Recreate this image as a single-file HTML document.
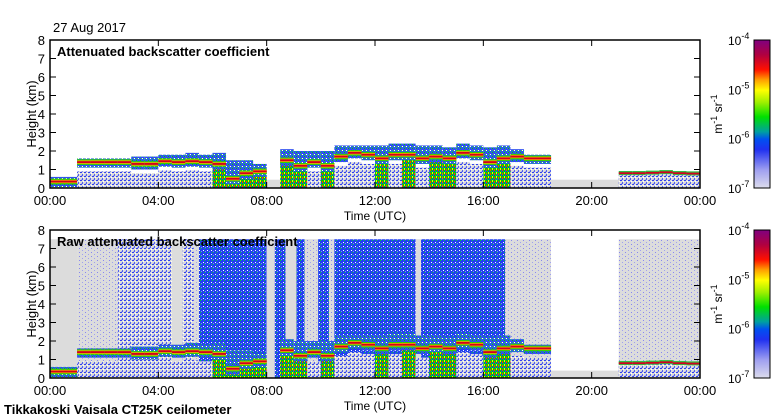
<!DOCTYPE html>
<html><head><meta charset="utf-8">
<style>
body{margin:0;background:#fff;}
svg{display:block;font-family:"Liberation Sans",sans-serif;}
</style></head>
<body>
<svg id="chart" width="780" height="420" viewBox="0 0 780 420" xmlns="http://www.w3.org/2000/svg">
<defs>
<linearGradient id="cbar" x1="0" y1="1" x2="0" y2="0">
<stop offset="0" stop-color="#dcdcec"/>
<stop offset="0.12" stop-color="#a0a0f0"/>
<stop offset="0.26" stop-color="#2030f0"/>
<stop offset="0.33" stop-color="#0050f0"/>
<stop offset="0.38" stop-color="#00a0a0"/>
<stop offset="0.48" stop-color="#00e000"/>
<stop offset="0.58" stop-color="#a0f000"/>
<stop offset="0.66" stop-color="#ffff00"/>
<stop offset="0.73" stop-color="#ffa000"/>
<stop offset="0.8" stop-color="#ff1000"/>
<stop offset="0.9" stop-color="#b00040"/>
<stop offset="1" stop-color="#800080"/>
</linearGradient>
<pattern id="pLight" width="6" height="4" patternUnits="userSpaceOnUse"><rect width="6" height="4" fill="#dcdcdc"/><rect x="1" y="0" width="1" height="1" fill="#8888f0"/><rect x="4" y="2" width="1" height="1" fill="#a0a0f0"/></pattern>
<pattern id="pMed" width="4" height="4" patternUnits="userSpaceOnUse"><rect width="4" height="4" fill="#dcdcdc"/><rect x="0" y="0" width="2" height="1" fill="#3040f0"/><rect x="2" y="2" width="1" height="2" fill="#5060f0"/><rect x="3" y="1" width="1" height="1" fill="#ffffff"/><rect x="1" y="3" width="1" height="1" fill="#a0a0f0"/></pattern>
<pattern id="pDense" width="4" height="4" patternUnits="userSpaceOnUse"><rect width="4" height="4" fill="#2040f0"/><rect x="0" y="0" width="1" height="1" fill="#00d040"/><rect x="3" y="2" width="1" height="1" fill="#ffffff"/><rect x="1" y="3" width="1" height="1" fill="#8090f0"/></pattern>
<pattern id="pHalo" width="4" height="4" patternUnits="userSpaceOnUse"><rect width="4" height="4" fill="#3050f0"/><rect x="0" y="0" width="1" height="1" fill="#00d000"/><rect x="2" y="2" width="1" height="1" fill="#ffffff"/><rect x="3" y="3" width="1" height="1" fill="#00c080"/><rect x="1" y="2" width="1" height="1" fill="#30e030"/></pattern>
<pattern id="pConv" width="4" height="4" patternUnits="userSpaceOnUse"><rect width="4" height="4" fill="#00d000"/><rect x="0" y="0" width="1" height="2" fill="#ffe000"/><rect x="2" y="1" width="1" height="2" fill="#ff3000"/><rect x="3" y="3" width="1" height="1" fill="#2040f0"/><rect x="1" y="2" width="1" height="2" fill="#2040f0"/></pattern>
</defs>
</svg>
<script>
// ---- data (half-hour bins, 48 values) ----
const binHours = Array.from({length:48},(_,i)=>i*0.5);
// cloud base height (km), 0 = no cloud
const cloudBase = [0.35,0.35,1.4,1.4,1.4,1.4,1.3,1.3,1.45,1.4,1.45,1.4,1.3,0.5,0.8,0.9,0,1.5,1.2,1.4,1.2,1.7,1.9,1.8,1.6,1.8,1.8,1.6,1.7,1.6,1.9,1.8,1.4,1.6,1.7,1.6,1.6,0,0,0,0,0,0,0,0,0,0,0];
const cloudTop  = [0.6,0.6,1.6,1.6,1.6,1.6,1.7,1.7,1.8,1.8,1.9,1.8,1.9,1.5,1.5,1.3,0,2.1,2.0,2.0,2.0,2.3,2.3,2.3,2.3,2.4,2.4,2.3,2.3,2.2,2.4,2.3,2.2,2.3,2.1,1.8,1.8,0,0,0,0,0,0,0,0,0,0,0];
// below-cloud fill: 0 none,1 light,2 blue,3 convective
const belowFill = [1,1,2,2,2,2,2,2,2,2,2,2,3,3,3,3,0,3,3,2,3,2,2,2,3,2,3,2,3,3,2,2,3,3,2,2,2,0,0,0,0,0,0,0,0,0,0,0];
// late-day low layer (21-24h)
const lateHours = [21,21.5,22,22.5,23,23.5];
const lateBase = [0.8,0.8,0.82,0.85,0.8,0.78];
// raw panel noise segments (hours) and level 0 gray,1 sparse,2 blue,3 dense,-1 empty
const segStart = [0,1,2.5,4.5,4.9,5.3,5.5,8.0,8.3,8.7,9.1,9.4,9.9,10.3,10.5,13.5,13.7,16.8,18.5,21];
const segEnd   = [1,2.5,4.5,4.9,5.3,5.5,8.0,8.3,8.7,9.1,9.4,9.9,10.3,10.5,13.5,13.7,16.8,18.5,21,24];
const segLevel = [0,1,2,0,2,1,3,0,3,0,3,1,3,1,3,0,3,1,-1,1];
const xTicks = ["00:00","04:00","08:00","12:00","16:00","20:00","00:00"];
const yTicks = [0,1,2,3,4,5,6,7,8];
const cbTicks = ["-7","-6","-5","-4"];

const svg = document.getElementById('chart');
const NS = "http://www.w3.org/2000/svg";
const X0=50, X1=700;
const xs = h => X0 + h*(X1-X0)/24;
function mk(tag, attrs, parent){const e=document.createElementNS(NS,tag);for(const k in attrs)e.setAttribute(k,attrs[k]);(parent||svg).appendChild(e);return e;}

const panels = [{top:40,bot:188,raw:false,title:"Attenuated backscatter coefficient",name:"attenuated-panel"},
                {top:230,bot:378,raw:true,title:"Raw attenuated backscatter coefficient",name:"raw-panel"}];

panels.forEach(p=>{
  const ys = km => p.bot - km*(p.bot-p.top)/8;
  const g = mk('g',{});
  
  
  const bw = (X1-X0)/48;
  if(p.raw){
    for(let i=0;i<segStart.length;i++){
      const lv=segLevel[i];
      const fill = lv<0?'#ffffff':lv===0?'#dcdcdc':lv===1?'url(#pLight)':lv===2?'url(#pMed)':'url(#pDense)';
      const r=mk('rect',{x:xs(segStart[i]),y:ys(7.5),width:xs(segEnd[i])-xs(segStart[i]),height:ys(0)-ys(7.5),fill:fill},g);
      
      
    }
    mk('rect',{x:xs(18.5),y:ys(0.4),width:xs(21)-xs(18.5),height:ys(0)-ys(0.4),fill:'#dcdcdc'},g);
  } else {
    const gr=mk('rect',{x:xs(0),y:ys(0.45),width:xs(24)-xs(0),height:ys(0)-ys(0.45),fill:'#dcdcdc'},g);
    
    
  }
  // clouds
  for(let i=0;i<48;i++){
    const b=cloudBase[i]; if(!b) continue;
    const x=xs(binHours[i]);
    const f=belowFill[i];
    if(f>0){
      const lowTop = f===3? b : b-0.5;
      const fill = f===1?'url(#pLight)':f===2?'url(#pMed)':'url(#pConv)';
      mk('rect',{x:x,y:ys(Math.max(lowTop,0.05)),width:bw,height:ys(0)-ys(Math.max(lowTop,0.05)),fill:fill},g);
    }
    const halo=mk('rect',{x:x,y:ys(cloudTop[i]),width:bw,height:ys(b-0.3)-ys(cloudTop[i]),fill:'url(#pHalo)'},g);
    
    
    mk('rect',{x:x,y:ys(b+0.15),width:bw,height:ys(b-0.15)-ys(b+0.15),fill:'#30d000'},g);
    mk('rect',{x:x,y:ys(b+0.09),width:bw,height:ys(b-0.09)-ys(b+0.09),fill:'#ffb000'},g);
    const c=mk('rect',{x:x,y:ys(b+0.05),width:bw,height:ys(b-0.05)-ys(b+0.05),fill:'#d00020'},g);
    
    
  }
  for(let i=0;i<lateHours.length;i++){
    const x=xs(lateHours[i]); const b=lateBase[i]; const w=xs(0.5)-xs(0);
    mk('rect',{x:x,y:ys(b-0.1),width:w,height:ys(0)-ys(b-0.1),fill:'url(#pMed)'},g);
    mk('rect',{x:x,y:ys(b+0.12),width:w,height:ys(b-0.1)-ys(b+0.12),fill:'#30c040'},g);
    const c=mk('rect',{x:x,y:ys(b+0.05),width:w,height:ys(b-0.05)-ys(b+0.05),fill:'#d00020'},g);
    
    
  }
  // frame
  const fr=mk('rect',{x:X0,y:p.top,width:X1-X0,height:p.bot-p.top,fill:'none',stroke:'#000','stroke-width':1.5});
  
  
  yTicks.forEach(v=>{
    const y=ys(v);
    mk('line',{x1:X1,y1:y,x2:X1-6,y2:y,stroke:'#000'});
    mk('line',{x1:X0,y1:y,x2:X0+6,y2:y,stroke:'#000'});
    const t=mk('text',{x:X0-5,y:y+5,'text-anchor':'end','font-size':13});
    t.textContent=v;
    
    
  });
  xTicks.forEach((lab,i)=>{
    const x=xs(i*4);
    mk('line',{x1:x,y1:p.top,x2:x,y2:p.top+6,stroke:'#000'});
    mk('line',{x1:x,y1:p.bot,x2:x,y2:p.bot-6,stroke:'#000'});
    const t=mk('text',{x:x,y:p.bot+17,'text-anchor':'middle','font-size':13});
    t.textContent=lab;
    
    
  });
  const tt=mk('text',{x:X0+7,y:p.top+16,'font-size':13,'font-weight':'bold'});
  tt.textContent=p.title;
  
  
  const xl=mk('text',{x:375,y:p.bot+32,'text-anchor':'middle','font-size':12});
  xl.textContent='Time (UTC)';
  
  
  const yc=(p.top+p.bot)/2;
  const yl=mk('text',{x:36,y:yc,'text-anchor':'middle','font-size':13,transform:`rotate(-90 36 ${yc})`});
  yl.textContent='Height (km)';
  
  
  // colorbar
  const cb=mk('rect',{x:754,y:p.top,width:16,height:p.bot-p.top,fill:'url(#cbar)',stroke:'#000','stroke-width':1});
  
  
  cbTicks.forEach((e,i)=>{
    const y=p.bot-i*(p.bot-p.top)/3;
    const t=mk('text',{x:728,y:y+5,'font-size':12});
    t.innerHTML='10<tspan dy="-6" font-size="9">'+e+'</tspan>';
    
    
  });
  const cl=mk('text',{x:722,y:yc,'text-anchor':'middle','font-size':12,transform:`rotate(-90 722 ${yc})`});
  cl.innerHTML='m<tspan dy="-5" font-size="9">-1</tspan><tspan dy="5"> sr</tspan><tspan dy="-5" font-size="9">-1</tspan>';
  
  
});
const d=mk('text',{x:53,y:32,'font-size':13});
d.textContent='27 Aug 2017';


const f=mk('text',{x:4,y:414,'font-size':13,'font-weight':'bold'});
f.textContent='Tikkakoski Vaisala CT25K ceilometer';


</script>
</body></html>
